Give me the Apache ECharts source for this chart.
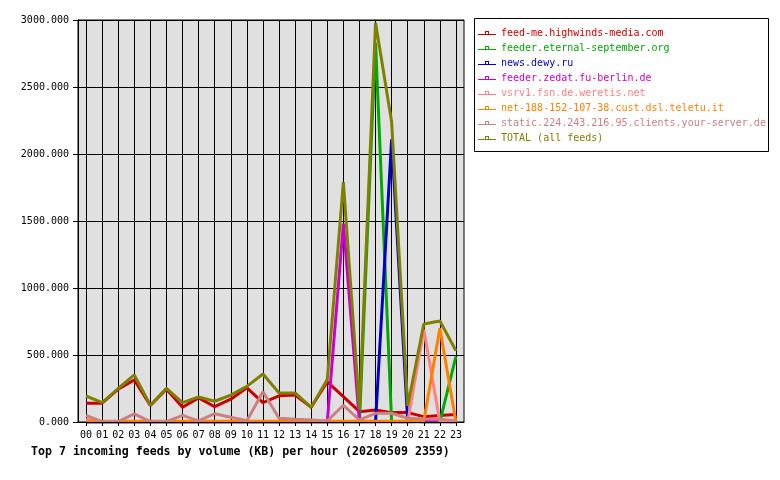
<!DOCTYPE html>
<html>
<head>
<meta charset="utf-8">
<script src="https://cdn.jsdelivr.net/npm/echarts@6/dist/echarts.min.js"></script>
<style>
html,body{margin:0;padding:0;background:#fff;}
#chart{width:780px;height:480px;}
</style>
</head>
<body>
<div id="chart"></div>
<script>
const hours = ['00','01','02','03','04','05','06','07','08','09','10','11','12','13','14','15','16','17','18','19','20','21','22','23'];
const yTicks = [0, 500, 1000, 1500, 2000, 2500, 3000];
const seriesNames = [
  'feed-me.highwinds-media.com',
  'feeder.eternal-september.org',
  'news.dewy.ru',
  'feeder.zedat.fu-berlin.de',
  'vsrv1.fsn.de.weretis.net',
  'net-188-152-107-38.cust.dsl.teletu.it',
  'static.224.243.216.95.clients.your-server.de',
  'TOTAL (all feeds)'
];
const seriesColors = ['#cc0000','#00aa00','#0000cc','#cc00cc','#ff8080','#ff8000','#cc8080','#808000'];

const feedMe    = [140, 140, 245, 313, 124, 245, 110, 180, 114, 170, 255, 145, 195, 201, 110, 300, 190, 77, 90, 70, 70, 40, 48, 56];
const eternal   = [0, 0, 0, 0, 0, 0, 0, 0, 0, 0, 0, 0, 0, 0, 0, 0, 0, 0, 2830, 0, 0, 0, 0, 490];
const dewy      = [0, 0, 0, 0, 0, 0, 0, 0, 0, 0, 0, 0, 0, 0, 0, 0, 0, 0, 0, 2110, 10, 0, 0, 0];
const zedat     = [0, 0, 0, 0, 0, 0, 0, 0, 0, 0, 0, 0, 0, 0, 0, 0, 1480, 0, 0, 0, 0, 5, 5, 0];
const weretis   = [20, 0, 0, 0, 0, 0, 0, 0, 0, 0, 0, 0, 0, 0, 0, 0, 0, 0, 0, 0, 0, 690, 0, 0];
const teletu    = [5, 5, 5, 5, 5, 5, 5, 5, 5, 5, 5, 5, 5, 5, 5, 5, 5, 5, 5, 5, 5, 5, 700, 0];
const yourServer= [50, 3, 3, 60, 3, 3, 50, 8, 62, 35, 10, 226, 28, 20, 15, 8, 125, 15, 65, 65, 28, 22, 20, 10];
const total     = [194, 144, 250, 351, 125, 251, 145, 187, 155, 201, 266, 358, 217, 217, 110, 318, 1790, 95, 2980, 2240, 120, 731, 754, 532];

const seriesData = [feedMe, eternal, dewy, zedat, weretis, teletu, yourServer, total];

const FONT = 'DejaVu Sans Mono';
const PLOT_LEFT = 78, PLOT_TOP = 20, PLOT_W = 386, PLOT_H = 402;
const half = PLOT_W / hours.length / 2;

const chart = echarts.init(document.getElementById('chart'), null, {renderer: 'canvas'});

// legend icon: thin line with a tiny hollow square sitting on it
const legendIcon = 'path://M0,3h18v1h-18Z M7,0h4v4h-4Z M8,1v2h2v-2Z';

chart.setOption({
  animation: false,
  backgroundColor: '#ffffff',
  title: {
    text: 'Top 7 incoming feeds by volume (KB) per hour (20260509 2359)',
    left: 31,
    top: 446,
    padding: 0,
    textStyle: {fontFamily: FONT, fontSize: 11.6, fontWeight: 'bold', color: '#000'}
  },
  graphic: [{
    type: 'rect',
    shape: {x: 474.5, y: 18.5, width: 294, height: 133},
    style: {fill: '#ffffff', stroke: '#000', lineWidth: 1},
    z: 0
  }],
  legend: {
    orient: 'vertical',
    left: 478,
    top: 28,
    padding: 0,
    icon: legendIcon,
    itemWidth: 18,
    itemHeight: 4,
    itemGap: 5,
    selectedMode: false,
    z: 10,
    textStyle: {fontFamily: FONT, fontSize: 10, lineHeight: 10},
    data: seriesNames.map((n, i) => ({name: n, textStyle: {color: seriesColors[i]}}))
  },
  grid: [
    {left: PLOT_LEFT, top: PLOT_TOP, width: PLOT_W, height: PLOT_H,
     show: true, backgroundColor: '#e0e0e0', borderColor: '#000', borderWidth: 1},
    {left: PLOT_LEFT + half, top: PLOT_TOP, width: PLOT_W - 2 * half, height: PLOT_H, show: false}
  ],
  xAxis: [
    {
      type: 'category',
      gridIndex: 0,
      data: hours,
      boundaryGap: true,
      z: 5,
      axisLine: {show: true, lineStyle: {color: '#000', width: 1}},
      axisTick: {show: true, alignWithLabel: true, length: 4, lineStyle: {color: '#000'}},
      axisLabel: {fontFamily: FONT, fontSize: 10, color: '#000', margin: 8, interval: 0},
      splitLine: {show: false}
    },
    {
      type: 'category',
      gridIndex: 1,
      data: hours,
      boundaryGap: false,
      z: 0,
      axisLine: {show: false},
      axisTick: {show: false},
      axisLabel: {show: false},
      splitLine: {show: true, interval: 0, lineStyle: {color: '#000', width: 1}}
    }
  ],
  yAxis: [
    {
      type: 'value',
      gridIndex: 0,
      min: yTicks[0],
      max: yTicks[yTicks.length - 1],
      interval: yTicks[1] - yTicks[0],
      axisLine: {show: true, lineStyle: {color: '#000', width: 1}},
      axisTick: {show: true, length: 5, lineStyle: {color: '#000'}},
      axisLabel: {fontFamily: FONT, fontSize: 10, color: '#000', margin: 9, formatter: v => v.toFixed(3)},
      splitLine: {show: true, lineStyle: {color: '#000', width: 1}}
    },
    {
      type: 'value',
      gridIndex: 1,
      min: yTicks[0],
      max: yTicks[yTicks.length - 1],
      interval: yTicks[1] - yTicks[0],
      show: false
    }
  ],
  series: seriesNames.map((n, i) => ({
    name: n,
    type: 'line',
    xAxisIndex: 0,
    yAxisIndex: 0,
    data: seriesData[i],
    color: seriesColors[i],
    symbol: 'none',
    lineStyle: {width: 3, color: seriesColors[i]},
    itemStyle: {color: seriesColors[i]},
    emphasis: {disabled: true}
  }))
});
</script>
</body>
</html>
